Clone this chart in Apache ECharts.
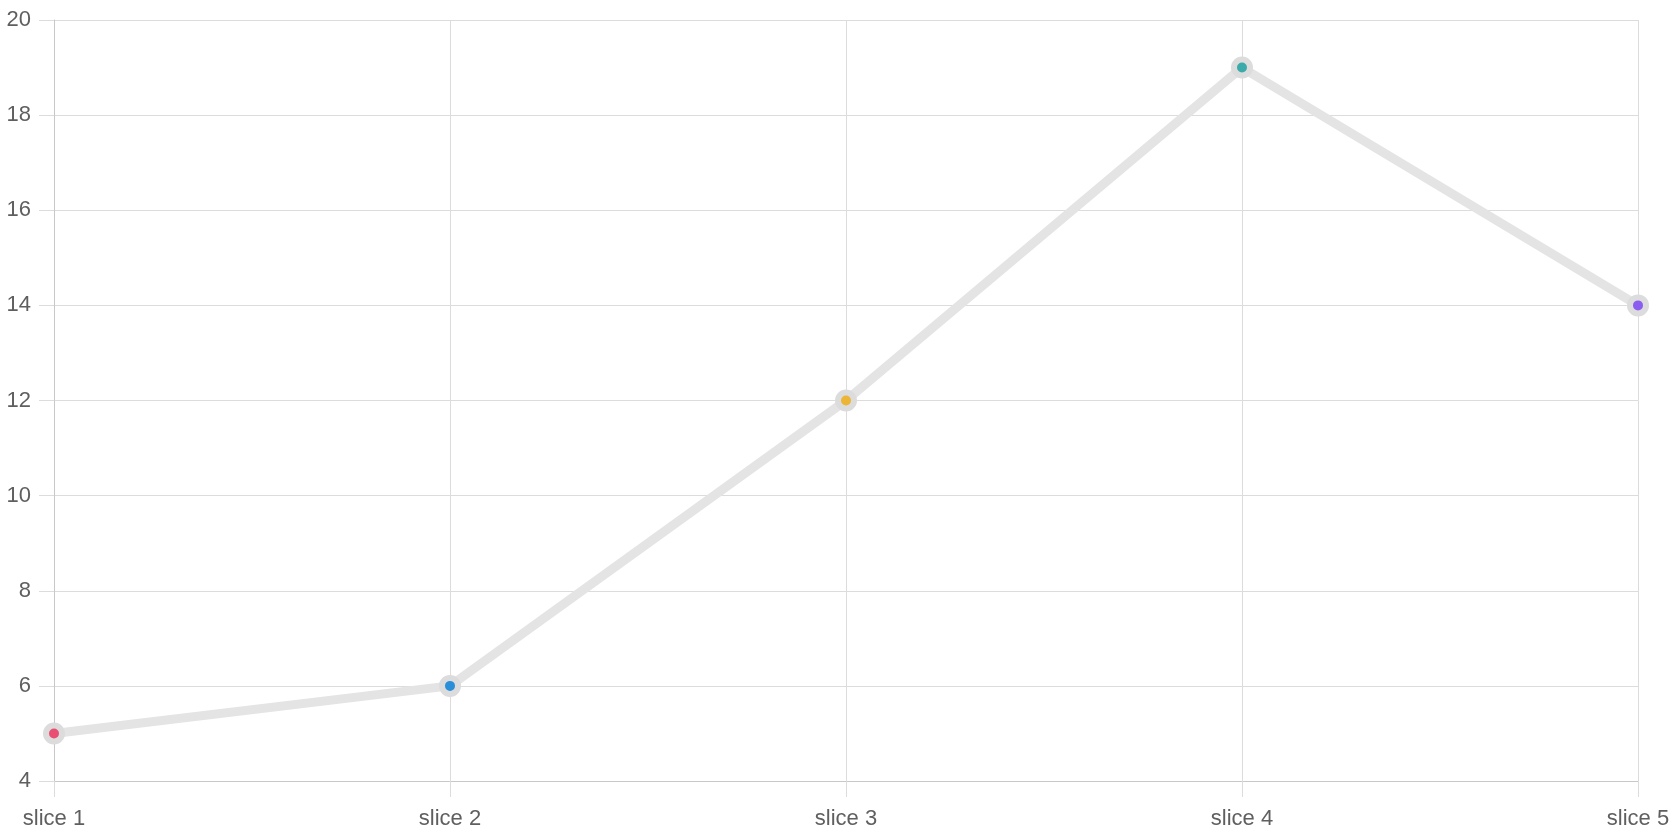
<!DOCTYPE html>
<html>
<head>
<meta charset="utf-8">
<script src="https://cdn.jsdelivr.net/npm/echarts@6/dist/echarts.min.js"></script>
<style>
html,body{margin:0;padding:0;background:#fff;}
#chart{width:1679px;height:839px;}
</style>
</head>
<body>
<div id="chart"></div>
<script>
const categories = ['slice 1', 'slice 2', 'slice 3', 'slice 4', 'slice 5'];
const values = [5, 6, 12, 19, 14];
const pointColors = ['#e94f72', '#2a8fd9', '#ecb535', '#3aabaa', '#8b5cf0'];

const chart = echarts.init(document.getElementById('chart'));
chart.setOption({
  animation: false,
  backgroundColor: '#ffffff',
  grid: { left: 54, right: 41, top: 20, bottom: 58, containLabel: false },
  xAxis: {
    type: 'category',
    data: categories,
    boundaryGap: false,
    axisLine: { show: true, lineStyle: { color: '#c8c8c8', width: 1 } },
    axisTick: { show: true, length: 16, lineStyle: { color: '#dcdcdc' } },
    splitLine: { show: true, lineStyle: { color: '#dcdcdc', width: 1 } },
    axisLabel: { color: '#5f5f5f', fontSize: 22, fontFamily: 'Liberation Sans', margin: 27 }
  },
  yAxis: {
    type: 'value',
    min: 4, max: 20, interval: 2,
    axisLine: { show: true, lineStyle: { color: '#c8c8c8', width: 1 } },
    axisTick: { show: true, length: 15, lineStyle: { color: '#dcdcdc' } },
    splitLine: { show: true, lineStyle: { color: '#dcdcdc', width: 1 } },
    axisLabel: { color: '#5f5f5f', fontSize: 22, fontFamily: 'Liberation Sans', margin: 23 }
  },
  series: [{
    type: 'line',
    data: values.map((v, i) => ({ value: v, itemStyle: { color: pointColors[i] } })),
    lineStyle: { color: '#e4e4e4', width: 9 },
    symbol: 'circle',
    symbolSize: 16,
    itemStyle: { borderColor: '#dcdcdc', borderWidth: 6 },
    z: 3
  }]
});
</script>
</body>
</html>
